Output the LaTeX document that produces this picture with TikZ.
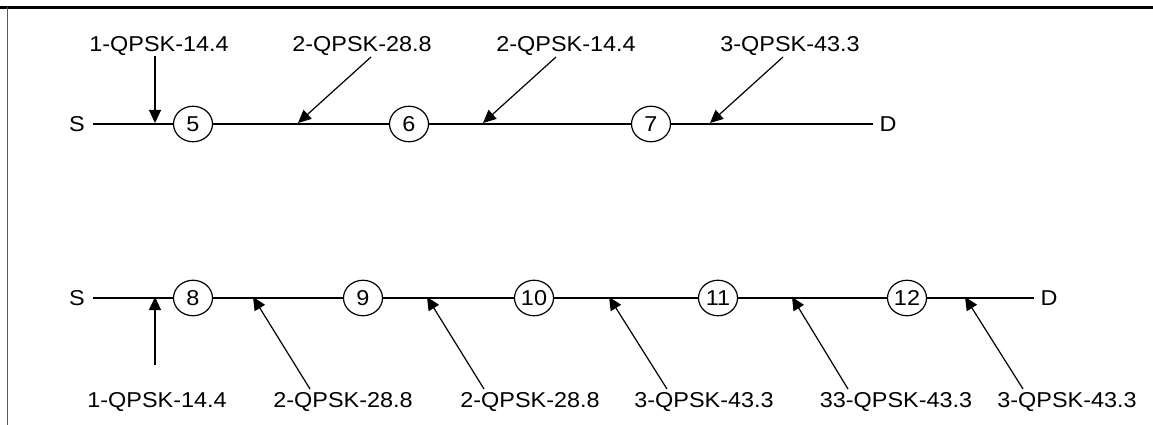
\documentclass[tikz,border=0pt]{standalone}
\usepackage{fontspec}
\setmainfont{Liberation Sans}
\newfontfamily\lblfont[FakeStretch=1.09]{Liberation Sans}
\usetikzlibrary{arrows.meta,shapes.geometric}
\tikzset{
  txt/.style={inner sep=0pt, font=\lblfont\fontsize{21.5}{26}\selectfont},
  src/.style={txt, outer xsep=8.5pt},
  dst/.style={txt, outer xsep=6.5pt},
  relay/.style={ellipse, draw, line width=1.2pt, minimum width=39pt, minimum height=35.5pt, inner sep=0pt, font=\lblfont\fontsize{21.5}{26}\selectfont},
  link/.style={line width=1.2pt},
  feed/.style={line width=1.2pt, -{Triangle[length=13pt,width=12pt]}},
}
\begin{document}
\begin{tikzpicture}[x=1pt,y=-1pt]
\useasboundingbox (0,0) rectangle (1153,425);
% frame
\draw[line width=3pt] (0,7.5) -- (1153,7.5);
\draw[line width=1.3pt, black!65] (7.7,7.5) -- (7.7,425);

% ---------- top route ----------
\node[src] (s1) at (77,124) {S};
\node[relay] (n5) at (193,124) {5};
\node[relay] (n6) at (409,124) {6};
\node[relay] (n7) at (651,124) {7};
\node[dst] (d1) at (888,124) {D};
\draw[link] (s1) -- (n5) -- (n6) -- (n7) -- (d1);

\node[txt, anchor=base] (t1) at (159,51.5) {1-QPSK-14.4};
\node[txt, anchor=base] (t2) at (362,51.5) {2-QPSK-28.8};
\node[txt, anchor=base] (t3) at (566,51.5) {2-QPSK-14.4};
\node[txt, anchor=base] (t4) at (790,51.5) {3-QPSK-43.3};

\coordinate (ta1) at (155,56);  \coordinate (th1) at (155,123);
\coordinate (ta2) at (371,57);  \coordinate (th2) at (298,123);
\coordinate (ta3) at (556,57);  \coordinate (th3) at (483,123);
\coordinate (ta4) at (783,57);  \coordinate (th4) at (710,123);
\draw[feed] (ta1) -- (th1);
\draw[feed] (ta2) -- (th2);
\draw[feed] (ta3) -- (th3);
\draw[feed] (ta4) -- (th4);

% ---------- bottom route ----------
\node[src] (s2) at (77,298) {S};
\node[relay] (n8) at (193,298) {8};
\node[relay] (n9) at (363,298) {9};
\node[relay] (n10) at (534,298) {10};
\node[relay] (n11) at (718,298) {11};
\node[relay] (n12) at (907,298) {12};
\node[dst] (d2) at (1049,298) {D};
\draw[link] (s2) -- (n8) -- (n9) -- (n10) -- (n11) -- (n12) -- (d2);

\node[txt, anchor=base] (b1) at (157,407) {1-QPSK-14.4};
\node[txt, anchor=base] (b2) at (343,407) {2-QPSK-28.8};
\node[txt, anchor=base] (b3) at (530,407) {2-QPSK-28.8};
\node[txt, anchor=base] (b4) at (704,407) {3-QPSK-43.3};
\node[txt, anchor=base] (b5) at (896,407) {33-QPSK-43.3};
\node[txt, anchor=base] (b6) at (1067,407) {3-QPSK-43.3};

\coordinate (ba1) at (155,365);  \coordinate (bh1) at (155,297);
\coordinate (ba2) at (310,389);  \coordinate (bh2) at (253,297);
\coordinate (ba3) at (484,389);  \coordinate (bh3) at (427,297);
\coordinate (ba4) at (667,389);  \coordinate (bh4) at (609,297);
\coordinate (ba5) at (848,389);  \coordinate (bh5) at (792,297);
\coordinate (ba6) at (1023,389); \coordinate (bh6) at (965,297);
\draw[feed] (ba1) -- (bh1);
\draw[feed] (ba2) -- (bh2);
\draw[feed] (ba3) -- (bh3);
\draw[feed] (ba4) -- (bh4);
\draw[feed] (ba5) -- (bh5);
\draw[feed] (ba6) -- (bh6);
\end{tikzpicture}
\end{document}
